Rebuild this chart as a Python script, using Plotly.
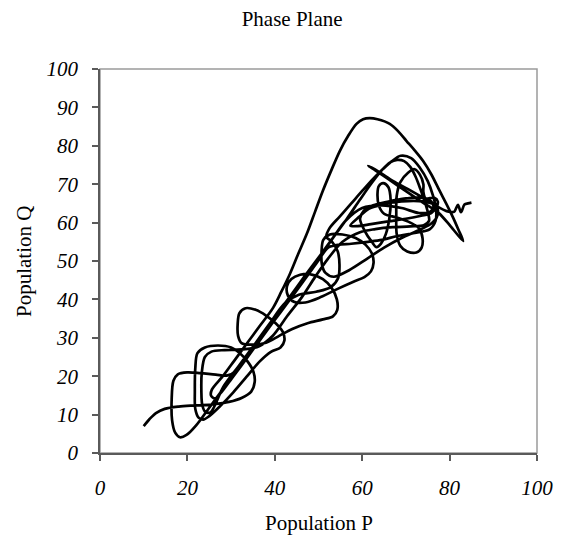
import plotly.graph_objects as go

# Trajectory (P, Q), in drawing order, split into stretches
# 1: start and the first loops along the diagonal
seg1_p = [10, 11.3, 12.8, 14.8, 18, 22, 26, 29.5, 32.5, 34.6, 35.4, 35.1, 33.8, 32, 30, 27, 24, 22.3, 21.8, 21.7,
          21.8, 22.5, 23.6, 25, 27.5, 30.5, 33.5, 36.5, 39.2, 41.3, 42.2, 41.8, 40.2, 38, 35.6, 33.3, 31.9, 31.5, 31.6, 32.4, 34.5]
seg1_q = [7, 8.8, 10.4, 11.5, 12.1, 12.4, 12.7, 13.3, 14.4, 16, 18.5, 21.2, 23.8, 26, 27.5, 28, 27.5, 26, 22, 16,
          11.5, 9.3, 8.7, 9.6, 12.2, 15.8, 19.8, 23.8, 26.4, 27.5, 29.3, 31.6, 33.8, 35.8, 37.3, 37.7, 36.4, 33.5, 30.5, 28.6, 28.2]
# 2: middle loops
seg2_p = [38, 41, 44, 47.5, 51, 53.3, 54.3, 54.2, 53, 51, 48, 45.8, 43.8, 42.8, 43, 44.5, 47, 50.5, 54.5, 58,
          60.5, 62, 62.6, 62.2, 60.8, 58.5, 55.5, 52.6, 51.1, 50.7, 50.8, 51.6, 53.5, 57, 61, 65, 69, 72.5, 75.5, 77,
          77.3, 76.3, 73, 69, 65, 61.5, 59.3, 57.3, 59, 62, 66, 70, 73.5]
seg2_q = [28.7, 30.5, 32.3, 33.8, 34.8, 35.6, 37.3, 40, 43, 45.3, 46.6, 46.4, 45.3, 43.5, 41, 39.3, 39.2, 40.6, 42.8, 44.6,
          45.8, 47.3, 49.5, 52, 54.2, 56, 56.9, 56.9, 55.5, 52.5, 49, 46.9, 45.9, 47.6, 50.5, 53.5, 56, 57.8, 59.5, 61.2,
          63.3, 64.8, 65.6, 65.5, 64.8, 63.6, 61.5, 59.2, 59.1, 59.6, 60.3, 61, 61.8]
# 3: upper cluster
seg3_p = [75.8, 77, 77.3, 76.5, 74.5, 74, 74, 73.2, 72, 70.5, 68.7, 67.9, 67.8, 67.9, 68.7, 70.3, 72.4, 73.6, 73.8, 73,
          71, 68, 65, 63.8, 63.5, 63.8, 64.8, 66, 66.5, 66.2, 65.4, 64.3, 63.3, 62.2, 60.5, 59.5, 60.3, 62.5, 66, 70,
          73.5, 75.8, 76.3, 75.5, 73]
seg3_q = [62.5, 64, 65.5, 66.5, 66.3, 68, 70, 72.5, 73.9, 73, 70.5, 67, 62, 57, 54, 52.5, 52.2, 53.5, 56, 58.5,
          60, 61.3, 62.3, 64.5, 67.5, 69.5, 70.3, 69.2, 66, 61, 57, 54.5, 53.6, 55, 58, 61, 63, 64.5, 65.5, 66.3,
          66.5, 65.5, 64, 62.8, 62.5]
# 4: long descent, bottom-left box, climb to the inner arch
seg4_p = [69, 64.5, 60, 56.2, 53.6, 50.4, 46.8, 43.3, 39.7, 36.2, 33.2, 31.2, 29.2, 26.5, 23, 20, 17.8, 16.8, 16.4, 16.5,
          17.2, 18.3, 19.8, 22, 25, 28.5, 32, 35.5, 39, 42.5, 46, 49.5, 53, 56.5, 59.5, 62.3, 64.6, 66.4, 68, 69.6,
          71, 72.2, 73.3, 74.3, 75]
seg4_q = [63.8, 64.5, 63.8, 60.5, 56.5, 51.5, 46, 40.5, 35, 29.5, 24.8, 21.5, 20.2, 20.4, 20.8, 21, 20.5, 18.8, 14, 8.5,
          5.3, 4.1, 4.7, 7.2, 11.8, 17.2, 22.6, 28, 33.5, 39, 44.5, 50, 55.5, 61, 66, 70.5, 73.8, 75.7, 76.3, 76,
          74.5, 72, 68.8, 65.5, 62.8]
# 5: second descent, inner loop, climb (with a side loop) to the outer arch
seg5_p = [75.3, 74.2, 71, 67, 63, 59.5, 55.5, 52.1, 49.2, 46.2, 42.8, 39.6, 36.4, 34.3, 31.5, 28.5, 25.5, 24, 23.3, 23.2,
          23.4, 24.1, 25.3, 28.2, 31.7, 35.2, 38.7, 42.3, 45.5, 49.5, 52.8, 54.5, 54.8, 54.4, 53.1, 51.8, 52.5, 54.8, 57.5, 60.2,
          62.6, 64.8, 66.8, 68.8, 71.2, 73.2, 75, 76.2, 76.9, 76.8]
seg5_q = [60.5, 59.4, 59, 58.8, 58.3, 57.5, 55, 50.5, 45.8, 40.6, 35.6, 30.6, 27.8, 27.2, 26.9, 26.8, 26.4, 25, 21, 16,
          12.5, 10.7, 10.6, 17.2, 22.6, 28, 33.5, 39, 41.2, 42, 43.2, 45.6, 49, 52.5, 55, 56.3, 58.5, 61.5, 65, 68.5,
          71.5, 74, 76, 77.4, 76.8, 74.3, 70.8, 67, 63.5, 60.5]
# 6: third descent, big excursion, return and final wiggle
seg6_p = [75.5, 72, 68, 64.5, 61.3, 57.5, 54.5, 52.2, 50.2, 48, 44.8, 41.2, 37.3, 33.8, 30.2, 27.9, 26.3, 25.4, 25.6, 28.1,
          30.7, 33.6, 36.5, 39.6, 41.5, 43.4, 45.3, 47.3, 49.2, 51, 53, 54.9, 56.8, 58.7, 60.2, 61.7, 63.5, 66.3, 68.3, 70.1,
          72, 73.9, 75.8, 77.7, 79.2, 80.8, 82, 83.1, 80.2, 77.4, 73.9, 70, 66, 63, 61.4, 64, 67.1, 70.5, 74, 77,
          79.3, 81, 81.9, 82.6, 83.4, 84.2, 85]
seg6_q = [58.3, 57.3, 56.5, 55.5, 55, 54.5, 54.2, 53.5, 50.5, 47, 42, 36.5, 30.5, 25, 19.5, 16, 14.2, 15, 16.5, 20,
          24, 28.5, 33, 37.8, 42, 46.5, 51.7, 57, 62.8, 68.3, 73.8, 78.7, 82.6, 85.7, 86.9, 87.2, 86.9, 85.7, 83.7, 81.3,
          78.8, 76.1, 72.6, 68.3, 65, 61.3, 58.2, 55.2, 59.1, 62.6, 65.2, 68.2, 71.3, 73.6, 74.8, 73.1, 70.8, 68.7, 66.4, 64.3,
          63, 62.8, 64.6, 62.7, 64.7, 65, 65.2]

x_ticks = [0, 20, 40, 60, 80, 100]
y_ticks = [0, 10, 20, 30, 40, 50, 60, 70, 80, 90, 100]

segs_p = [seg1_p, seg2_p, seg3_p, seg4_p, seg5_p, seg6_p]
segs_q = [seg1_q, seg2_q, seg3_q, seg4_q, seg5_q, seg6_q]
pop_p, pop_q = [], []
for sp, sq in zip(segs_p, segs_q):
    m = min(len(sp), len(sq))
    pop_p += sp[:m]
    pop_q += sq[:m]

fig = go.Figure(go.Scatter(
    x=pop_p, y=pop_q, mode="lines",
    line=dict(color="black", width=2.7, shape="spline", smoothing=0.9),
    hoverinfo="skip", showlegend=False,
))

serif = "Liberation Serif, Times New Roman, serif"
axis_common = dict(range=[0, 100], showgrid=False, zeroline=False, showline=True,
                   linecolor="#5a5a5a", linewidth=1.5, mirror=False, automargin=False,
                   ticks="outside", ticklen=6, tickcolor="#5a5a5a", tickwidth=1.5)
fig.update_layout(
    width=564, height=537,
    margin=dict(l=100, r=27, t=69, b=84, autoexpand=False),
    paper_bgcolor="white", plot_bgcolor="white",
    title=dict(text="Phase Plane", x=0.518, xanchor="center", xref="container",
               y=0.966, yanchor="middle", yref="container",
               font=dict(family=serif, size=21, color="black")),
    font=dict(family=serif, color="black"),
    xaxis=dict(**axis_common, tickvals=x_ticks, ticktext=[f"<i>{v}</i>" for v in x_ticks],
               tickfont=dict(family=serif, size=21, color="black"), ticklabelstandoff=9),
    yaxis=dict(**axis_common, tickvals=y_ticks, ticktext=[f"<i>{v}</i>" for v in y_ticks],
               tickfont=dict(family=serif, size=21, color="black"), ticklabelstandoff=10),
    annotations=[
        dict(text="Population P", xref="paper", yref="paper", x=0.5, y=-0.182,
             xanchor="center", yanchor="middle", showarrow=False,
             font=dict(family=serif, size=21, color="black")),
        dict(text="Population Q", xref="paper", yref="paper", x=-0.174, y=0.5, textangle=-90,
             xanchor="center", yanchor="middle", showarrow=False,
             font=dict(family=serif, size=21, color="black")),
    ],
    shapes=[dict(type="rect", xref="paper", yref="paper", x0=0, y0=0, x1=1, y1=1,
                 line=dict(color="#9a9a9a", width=1.5), layer="below")],
)
fig.write_html("out.html")
